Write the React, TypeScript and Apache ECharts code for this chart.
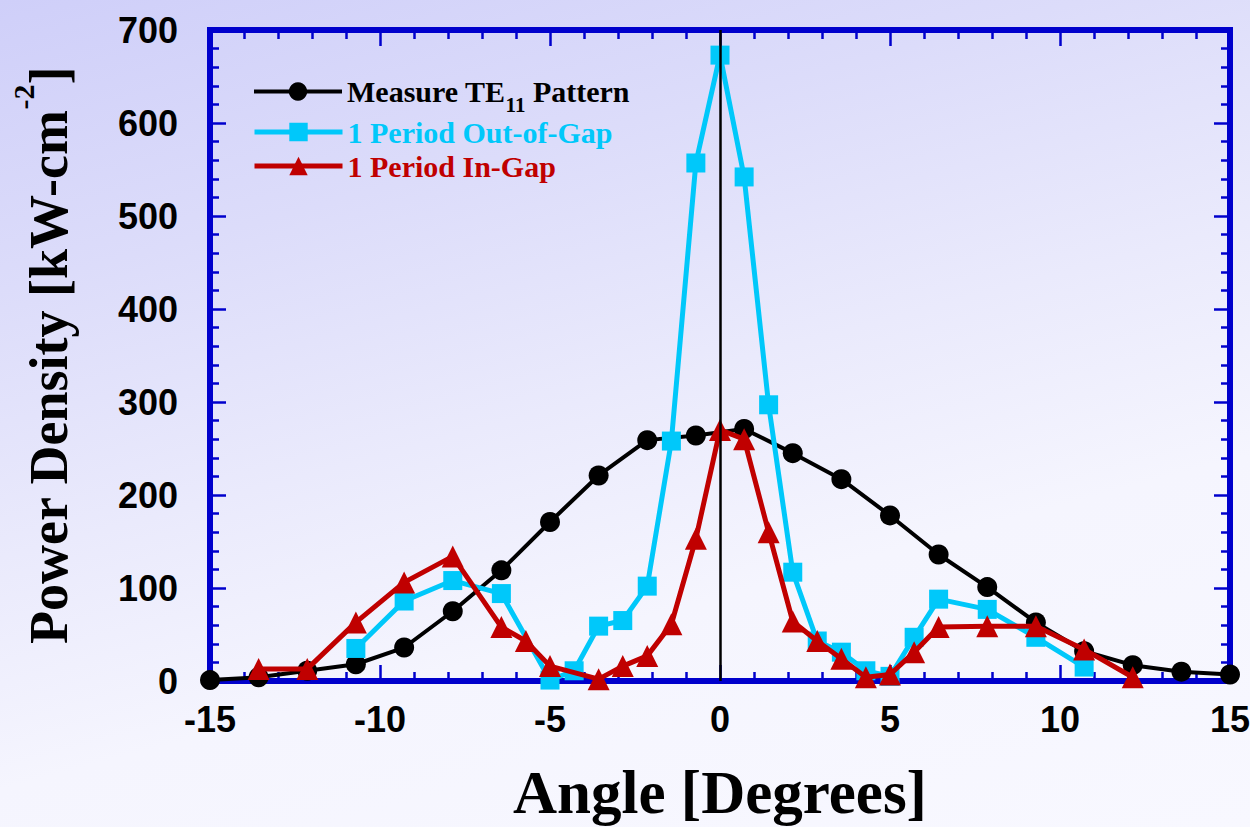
import React, { useEffect, useRef } from "react";
import * as echarts from "echarts";

// ---- data ----
const angleMeasured = [-15, -13.57, -12.14, -10.71, -9.29, -7.86, -6.43, -5, -3.57, -2.14, -0.71, 0.71, 2.14, 3.57, 5, 6.43, 7.86, 9.29, 10.71, 12.14, 13.57, 15];
const measured = [1, 4, 11, 18, 36, 75, 119, 171, 221, 259, 264, 271, 245, 217, 178, 136, 101, 63, 32, 17, 10, 7];

const angleOut = [-10.71, -9.29, -7.86, -6.43, -5, -4.29, -3.57, -2.86, -2.14, -1.43, -0.71, 0, 0.71, 1.43, 2.14, 2.86, 3.57, 4.29, 5, 5.71, 6.43, 7.86, 9.29, 10.71];
const outOfGap = [35, 86, 108, 94, 1, 11, 59, 65, 102, 258, 557, 673, 542, 297, 117, 43, 31, 11, 5, 47, 88, 77, 47, 15];

const angleIn = [-13.57, -12.14, -10.71, -9.29, -7.86, -6.43, -5.71, -5, -3.57, -2.86, -2.14, -1.43, -0.71, 0, 0.71, 1.43, 2.14, 2.86, 3.57, 4.29, 5, 5.71, 6.43, 7.86, 9.29, 10.71, 12.14];
const inGap = [13, 13, 63, 106, 134, 58, 43, 16, 2, 16, 27, 61, 153, 270, 260, 160, 64, 43, 24, 4, 7, 31, 58, 59, 59, 34, 4];

const seriesNames = ["Measure TE11 Pattern", "1 Period Out-of-Gap", "1 Period In-Gap"];
const seriesColors = ["#000000", "#00c8fa", "#c00000"];

const xMin = -15;
const xMax = 15;
const xInterval = 5;
const yMin = 0;
const yMax = 700;
const yInterval = 100;

const zip = (xs: number[], ys: number[]) => xs.map((x, i) => [x, ys[i]]);

const SERIF = "'Liberation Serif', 'Times New Roman', serif";
const SANS = "'Liberation Sans', Arial, sans-serif";
const FRAME = "#0000cc";

export default function App() {
  const ref = useRef<HTMLDivElement>(null);

  useEffect(() => {
    document.body.style.margin = "0";
    if (!ref.current) return;
    const chart = echarts.init(ref.current, null, { renderer: "svg" });

    const tickCommon = {
      axisLine: { show: false, onZero: false },
      axisTick: { show: true, inside: true, length: 16, lineStyle: { color: FRAME, width: 2.5 } },
      minorTick: { show: true, splitNumber: 5, length: 9, lineStyle: { color: FRAME, width: 2.5 } },
      splitLine: { show: false },
      minorSplitLine: { show: false },
    };

    const legendText = (color: string) => ({
      color,
      fontFamily: SERIF,
      fontWeight: "bold" as const,
      fontSize: 30,
      rich: {
        a: { color, fontFamily: SERIF, fontWeight: "bold", fontSize: 30, lineHeight: 30 },
        s: { color, fontFamily: SERIF, fontWeight: "bold", fontSize: 21, lineHeight: 14, padding: [26, 0, 0, 0] },
      },
    });

    const legendBase = {
      orient: "vertical" as const,
      left: 252,
      padding: 0,
      itemWidth: 88,
      itemHeight: 23,
      selectedMode: false,
    };

    const option: any = {
      animation: false,
      backgroundColor: "transparent",
      grid: {
        left: 210,
        right: 20,
        top: 30,
        bottom: 146,
        containLabel: false,
        outerBoundsMode: "none",
        show: true,
        borderColor: FRAME,
        borderWidth: 6,
        backgroundColor: "transparent",
      },
      legend: [
        {
          ...legendBase,
          top: 68,
          data: [seriesNames[0]],
          formatter: () => "{a|Measure TE}{s|11}{a| Pattern}",
          textStyle: legendText(seriesColors[0]),
          lineStyle: { width: 4 },
        },
        {
          ...legendBase,
          top: 117,
          data: [seriesNames[1]],
          formatter: (n: string) => "{a|" + n + "}",
          textStyle: legendText(seriesColors[1]),
          lineStyle: { width: 5 },
        },
        {
          ...legendBase,
          top: 151,
          data: [seriesNames[2]],
          formatter: (n: string) => "{a|" + n + "}",
          textStyle: legendText(seriesColors[2]),
          lineStyle: { width: 5 },
        },
      ],
      xAxis: [
        {
          type: "value",
          position: "bottom",
          min: xMin,
          max: xMax,
          interval: xInterval,
          ...tickCommon,
          axisLabel: {
            show: true,
            margin: 20,
            color: "#000",
            fontFamily: SANS,
            fontWeight: "bold",
            fontSize: 36,
          },
          name: "Angle [Degrees]",
          nameLocation: "middle",
          nameGap: 88,
          nameTextStyle: { color: "#000", fontFamily: SERIF, fontWeight: "bold", fontSize: 61, lineHeight: 46 },
        },
        {
          type: "value",
          position: "top",
          min: xMin,
          max: xMax,
          interval: xInterval,
          ...tickCommon,
          axisLabel: { show: false },
        },
      ],
      yAxis: [
        {
          type: "value",
          position: "left",
          min: yMin,
          max: yMax,
          interval: yInterval,
          ...tickCommon,
          axisLabel: {
            show: true,
            margin: 32,
            color: "#000",
            fontFamily: SANS,
            fontWeight: "bold",
            fontSize: 36,
          },
          name: "{m|Power Density [kW-cm}{s|-2}{m|]}",
          nameLocation: "middle",
          nameRotate: 90,
          nameGap: 134,
          nameTextStyle: {
            color: "#000",
            fontFamily: SERIF,
            fontWeight: "bold",
            fontSize: 54,
            rich: {
              m: { color: "#000", fontFamily: SERIF, fontWeight: "bold", fontSize: 54, lineHeight: 54 },
              s: { color: "#000", fontFamily: SERIF, fontWeight: "bold", fontSize: 30, lineHeight: 30, padding: [0, 0, 52, 0] },
            },
          },
        },
        {
          type: "value",
          position: "right",
          min: yMin,
          max: yMax,
          interval: yInterval,
          ...tickCommon,
          axisLabel: { show: false },
        },
      ],
      series: [
        {
          type: "line",
          name: seriesNames[0],
          data: zip(angleMeasured, measured),
          symbol: "circle",
          symbolSize: 20,
          lineStyle: { color: seriesColors[0], width: 4 },
          itemStyle: { color: seriesColors[0] },
          z: 2,
        },
        {
          type: "line",
          name: seriesNames[1],
          data: zip(angleOut, outOfGap),
          symbol: "rect",
          symbolSize: 19,
          lineStyle: { color: seriesColors[1], width: 5 },
          itemStyle: { color: seriesColors[1] },
          z: 3,
        },
        {
          type: "line",
          name: seriesNames[2],
          data: zip(angleIn, inGap),
          symbol: "triangle",
          symbolSize: 22,
          lineStyle: { color: seriesColors[2], width: 5 },
          itemStyle: { color: seriesColors[2] },
          z: 4,
          markLine: {
            silent: true,
            symbol: ["none", "none"],
            label: { show: false },
            lineStyle: { color: "#000", width: 2.5, type: "solid" },
            data: [{ xAxis: 0 }],
          },
        },
      ],
    };

    chart.setOption(option);
    return () => chart.dispose();
  }, []);

  return (
    <div
      style={{
        position: "fixed",
        left: 0,
        top: 0,
        width: 1250,
        height: 827,
        background:
          "linear-gradient(165deg, #cfcff9 0%, #dcdcfa 25%, #eaeafc 48%, #f5f5fe 68%, #f8f8ff 100%)",
      }}
    >
      <div ref={ref} style={{ width: 1250, height: 827 }} />
    </div>
  );
}
